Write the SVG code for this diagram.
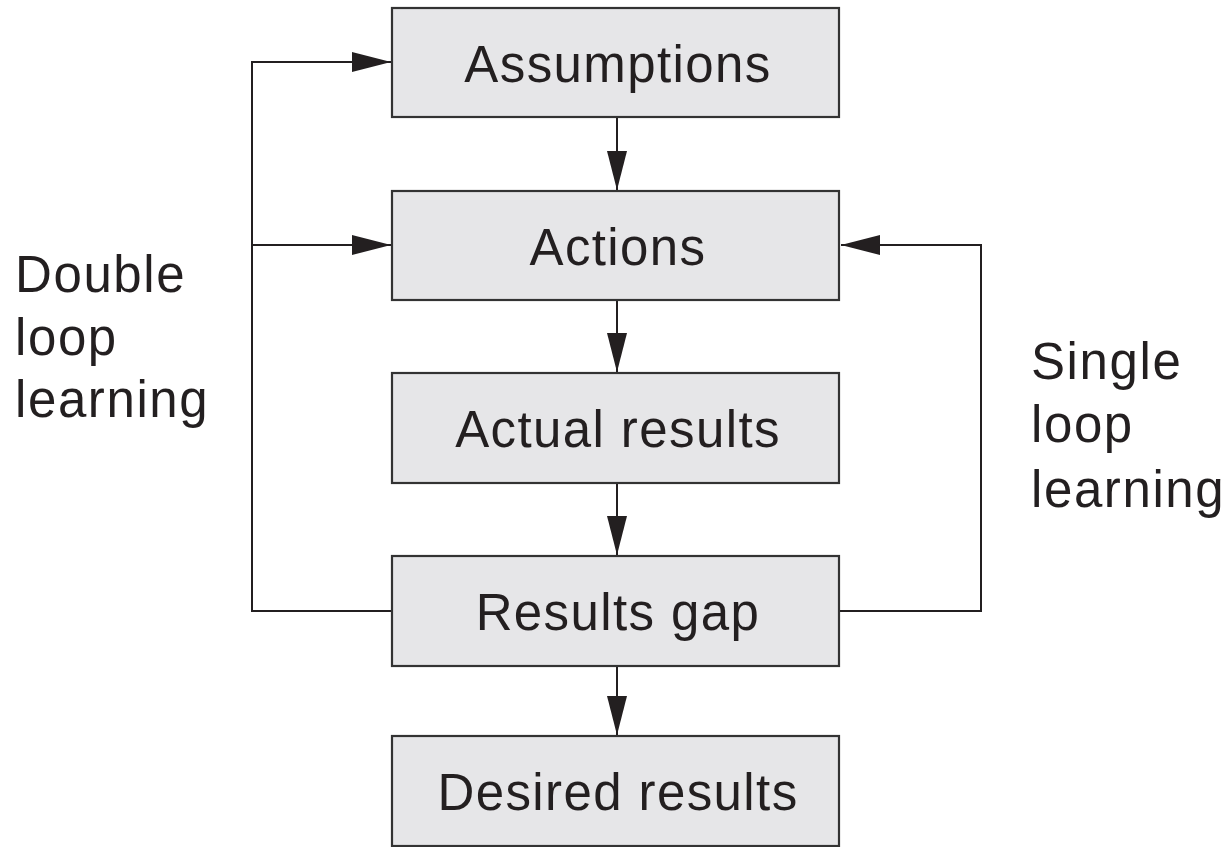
<svg xmlns="http://www.w3.org/2000/svg" width="1230" height="847" viewBox="0 0 1230 847">
<defs>
<style>
.box{fill:#e6e6e8;stroke:#333;stroke-width:2.2}
.lbl{font-family:"Liberation Sans",Arial,sans-serif;font-size:51px;fill:#231f20;text-anchor:middle;letter-spacing:1.4px}
.side{font-family:"Liberation Sans",Arial,sans-serif;font-size:51px;fill:#231f20;letter-spacing:1.6px}
.ln{fill:none;stroke:#231f20;stroke-width:2}
</style>
<marker id="ah" viewBox="0 0 39 20" refX="39" refY="10" markerWidth="39" markerHeight="20" markerUnits="userSpaceOnUse" orient="auto">
<path d="M0,0 L39,10 L0,20 Z" fill="#231f20"/>
</marker>
</defs>
<rect width="1230" height="847" fill="#fff"/>
<g id="connectors">
<path class="ln" d="M617,117 V190" marker-end="url(#ah)"/>
<path class="ln" d="M617,300 V372" marker-end="url(#ah)"/>
<path class="ln" d="M617,483 V555" marker-end="url(#ah)"/>
<path class="ln" d="M617,666 V735" marker-end="url(#ah)"/>
<path class="ln" d="M392,611 H252 V62 H391" marker-end="url(#ah)"/>
<path class="ln" d="M252,245 H391" marker-end="url(#ah)"/>
<path class="ln" d="M839,611 H981 V245 H841" marker-end="url(#ah)"/>
</g>
<g id="assumptions"><rect class="box" x="392" y="8" width="447" height="109"/><text class="lbl" x="618" y="82">Assumptions</text></g>
<g id="actions"><rect class="box" x="392" y="191" width="447" height="109"/><text class="lbl" x="618" y="265">Actions</text></g>
<g id="actual-results"><rect class="box" x="392" y="373" width="447" height="110"/><text class="lbl" x="618" y="447">Actual results</text></g>
<g id="results-gap"><rect class="box" x="392" y="556" width="447" height="110"/><text class="lbl" x="618" y="630">Results gap</text></g>
<g id="desired-results"><rect class="box" x="392" y="736" width="447" height="110"/><text class="lbl" x="618" y="810">Desired results</text></g>
<g id="double-loop-label"><text class="side"><tspan x="15" y="292">Double</tspan><tspan x="15" y="355">loop</tspan><tspan x="15" y="417">learning</tspan></text></g>
<g id="single-loop-label"><text class="side"><tspan x="1031" y="379">Single</tspan><tspan x="1031" y="442">loop</tspan><tspan x="1031" y="507">learning</tspan></text></g>
</svg>
